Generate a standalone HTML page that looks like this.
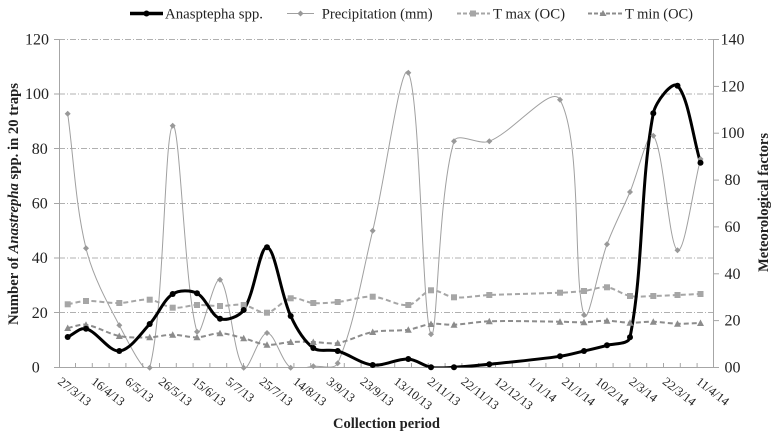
<!DOCTYPE html>
<html>
<head>
<meta charset="utf-8">
<style>
  html,body{margin:0;padding:0;background:#fff;}
  svg{display:block;}
  text{font-family:"Liberation Serif","Times New Roman",serif;fill:#222;}
</style>
</head>
<body>
<svg width="772" height="434" viewBox="0 0 772 434" xmlns="http://www.w3.org/2000/svg">
  <defs>
    <clipPath id="plot"><rect x="59" y="30" width="654" height="337.5"/></clipPath>
    <marker id="mc" markerUnits="userSpaceOnUse" markerWidth="10" markerHeight="10" refX="0" refY="0" overflow="visible">
      <circle cx="0" cy="0" r="3" fill="#000"/>
    </marker>
    <marker id="md" markerUnits="userSpaceOnUse" markerWidth="10" markerHeight="10" refX="0" refY="0" overflow="visible">
      <polygon points="0,-3 3,0 0,3 -3,0" fill="#999"/>
    </marker>
    <marker id="ms" markerUnits="userSpaceOnUse" markerWidth="10" markerHeight="10" refX="0" refY="0" overflow="visible">
      <rect x="-3" y="-3" width="6" height="6" fill="#a6a6a6"/>
    </marker>
    <marker id="mt" markerUnits="userSpaceOnUse" markerWidth="10" markerHeight="10" refX="0" refY="0" overflow="visible">
      <polygon points="0,-3.5 3.5,3 -3.5,3" fill="#8c8c8c"/>
    </marker>
  </defs>
  <rect x="0" y="0" width="772" height="434" fill="#fff"/>

  <!-- gridlines -->
  <g stroke="#b0b0b0" stroke-width="1" stroke-dasharray="6 2 1 2">
    <line x1="59" y1="39.5" x2="713" y2="39.5"/>
    <line x1="59" y1="94" x2="713" y2="94"/>
    <line x1="59" y1="148.5" x2="713" y2="148.5"/>
    <line x1="59" y1="203.5" x2="713" y2="203.5"/>
    <line x1="59" y1="258" x2="713" y2="258"/>
    <line x1="59" y1="312.5" x2="713" y2="312.5"/>
  </g>

  <!-- axes -->
  <g stroke="#a6a6a6" stroke-width="1" fill="none">
    <line x1="59.5" y1="39" x2="59.5" y2="367.5"/>
    <line x1="713.5" y1="39" x2="713.5" y2="367.5"/>
    <line x1="59" y1="367.5" x2="714" y2="367.5"/>
    <line x1="54" y1="39.5" x2="59" y2="39.5"/>
    <line x1="54" y1="94" x2="59" y2="94"/>
    <line x1="54" y1="148.5" x2="59" y2="148.5"/>
    <line x1="54" y1="203.5" x2="59" y2="203.5"/>
    <line x1="54" y1="258" x2="59" y2="258"/>
    <line x1="54" y1="312.5" x2="59" y2="312.5"/>
    <line x1="54" y1="367.5" x2="59" y2="367.5"/>
    <line x1="714" y1="39.5" x2="719" y2="39.5"/>
    <line x1="714" y1="86.4" x2="719" y2="86.4"/>
    <line x1="714" y1="133.2" x2="719" y2="133.2"/>
    <line x1="714" y1="180.1" x2="719" y2="180.1"/>
    <line x1="714" y1="226.9" x2="719" y2="226.9"/>
    <line x1="714" y1="273.8" x2="719" y2="273.8"/>
    <line x1="714" y1="320.6" x2="719" y2="320.6"/>
    <line x1="714" y1="367.5" x2="719" y2="367.5"/>
  </g>
  <path stroke="#a6a6a6" stroke-width="1" fill="none" d="
    M75.5,363V367 M92.3,363V367 M109.1,363V367 M125.9,363V367 M142.7,363V367 M159.5,363V367 M176.3,363V367 M193.1,363V367 M209.9,363V367 M226.7,363V367
    M243.5,363V367 M260.3,363V367 M277.1,363V367 M293.9,363V367 M310.7,363V367 M327.5,363V367 M344.3,363V367 M361.1,363V367 M377.9,363V367 M394.7,363V367
    M411.5,363V367 M428.3,363V367 M445.1,363V367 M461.9,363V367 M478.7,363V367 M495.5,363V367 M512.3,363V367 M529.1,363V367 M545.9,363V367 M562.7,363V367
    M579.5,363V367 M596.3,363V367 M613.1,363V367 M629.9,363V367 M646.7,363V367 M663.5,363V367 M680.3,363V367 M697.1,363V367"/>

  <g font-size="16">
    <text x="25" y="44.5">120</text>
    <text x="25" y="99.2">100</text>
    <text x="31.7" y="153.8">80</text>
    <text x="31.7" y="208.5">60</text>
    <text x="31.7" y="263.2">40</text>
    <text x="31.7" y="317.8">20</text>
    <text x="31.7" y="372.5">0</text>
  </g>
  <g font-size="16" text-anchor="middle">
    <text x="732.5" y="44.5">140</text>
    <text x="732.5" y="91.4">120</text>
    <text x="732.5" y="138.2">100</text>
    <text x="732.5" y="185.1">80</text>
    <text x="732.5" y="231.9">60</text>
    <text x="732.5" y="278.8">40</text>
    <text x="732.5" y="325.6">20</text>
    <text x="732.5" y="372.5">00</text>
  </g>

  <g font-size="12.5">
    <text transform="translate(57,383) rotate(38)">27/3/13</text>
    <text transform="translate(90.6,383) rotate(38)">16/4/13</text>
    <text transform="translate(124.2,383) rotate(38)">6/5/13</text>
    <text transform="translate(157.8,383) rotate(38)">26/5/13</text>
    <text transform="translate(191.4,383) rotate(38)">15/6/13</text>
    <text transform="translate(225,383) rotate(38)">5/7/13</text>
    <text transform="translate(258.6,383) rotate(38)">25/7/13</text>
    <text transform="translate(292.2,383) rotate(38)">14/8/13</text>
    <text transform="translate(325.8,383) rotate(38)">3/9/13</text>
    <text transform="translate(359.4,383) rotate(38)">23/9/13</text>
    <text transform="translate(393,383) rotate(38)">13/10/13</text>
    <text transform="translate(426.6,383) rotate(38)">2/11/13</text>
    <text transform="translate(460.2,383) rotate(38)">22/11/13</text>
    <text transform="translate(493.8,383) rotate(38)">12/12/13</text>
    <text transform="translate(527.4,383) rotate(38)">1/1/14</text>
    <text transform="translate(561,383) rotate(38)">21/1/14</text>
    <text transform="translate(594.6,383) rotate(38)">10/2/14</text>
    <text transform="translate(628.2,383) rotate(38)">2/3/14</text>
    <text transform="translate(661.8,383) rotate(38)">22/3/14</text>
    <text transform="translate(695.4,383) rotate(38)">11/4/14</text>
  </g>

  <text x="386.5" y="428" font-size="14.5" font-weight="bold" text-anchor="middle" textLength="107" lengthAdjust="spacingAndGlyphs">Collection period</text>
  <text transform="translate(18,204) rotate(-90)" font-size="14.7" font-weight="bold" text-anchor="middle" textLength="242" lengthAdjust="spacingAndGlyphs">Number of <tspan font-style="italic">Anastrepha</tspan> spp. in 20 traps</text>
  <text transform="translate(768,202.5) rotate(-90)" font-size="14.5" font-weight="bold" text-anchor="middle" textLength="139" lengthAdjust="spacingAndGlyphs">Meteorological factors</text>

  <g clip-path="url(#plot)" fill="none">
    <polyline class="sm" stroke="#a0a0a0" stroke-width="1" points="67.7,113.7 86,248.3 119.3,325.3 149.7,367.7 172.7,125.7 197,331.7 220,279.7 243.7,367.7 267,333 290.7,367.7 313.3,366.3 337.7,363.3 372.7,230.7 408.3,72.7 431,334.3 454,141.3 489.3,141.3 560,99.7 584,315 607,244.3 630,192 653.3,135.7 677.5,250.3 700.5,159"/>
    <polyline class="sm" stroke="#a6a6a6" stroke-width="2" stroke-dasharray="5 3" points="67.7,304.3 86,301 119.3,303 149.7,299.7 172.7,307.7 197,305 220,306 243.7,305 267,312.7 290.7,298.3 313.3,303 337.7,302 372.7,296.7 408.3,305 431,290.3 454,297.3 489.3,295 560,292.7 584,291 607,287.3 630,296 653.3,296 677.5,295 700.5,294"/>
    <polyline class="sm" stroke="#8c8c8c" stroke-width="2" stroke-dasharray="5 3" points="67.7,328 86,324.7 119.3,336 149.7,337.3 172.7,334.7 197,337.3 220,333.3 243.7,338.3 267,344.7 290.7,342 313.3,342 337.7,343 372.7,332 408.3,329.7 431,324 454,324.7 489.3,321.3 560,321.7 584,322.3 607,320.7 630,322.7 653.3,321.7 677.5,323.7 700.5,323"/>
    <polyline class="sm" stroke="#000" stroke-width="3" stroke-linejoin="round" points="67.7,337 86,328.7 119.3,351 149.7,324 172.7,294 197,293.3 220,318.7 243.7,310 267,247.3 290.7,316 313.3,348 337.7,351 372.7,365 408.3,359 431,367.3 454,367.3 489.3,364.3 560,356.3 584,351 607,345.3 630,337.3 653.3,113.3 677.5,85.7 700.5,162.7"/>
  </g>

  <g fill="none" stroke="none">
    <polyline marker-start="url(#md)" marker-mid="url(#md)" marker-end="url(#md)" points="67.7,113.7 86,248.3 119.3,325.3 149.7,367.7 172.7,125.7 197,331.7 220,279.7 243.7,367.7 267,333 290.7,367.7 313.3,366.3 337.7,363.3 372.7,230.7 408.3,72.7 431,334.3 454,141.3 489.3,141.3 560,99.7 584,315 607,244.3 630,192 653.3,135.7 677.5,250.3 700.5,159"/>
    <polyline marker-start="url(#ms)" marker-mid="url(#ms)" marker-end="url(#ms)" points="67.7,304.3 86,301 119.3,303 149.7,299.7 172.7,307.7 197,305 220,306 243.7,305 267,312.7 290.7,298.3 313.3,303 337.7,302 372.7,296.7 408.3,305 431,290.3 454,297.3 489.3,295 560,292.7 584,291 607,287.3 630,296 653.3,296 677.5,295 700.5,294"/>
    <polyline marker-start="url(#mt)" marker-mid="url(#mt)" marker-end="url(#mt)" points="67.7,328 86,324.7 119.3,336 149.7,337.3 172.7,334.7 197,337.3 220,333.3 243.7,338.3 267,344.7 290.7,342 313.3,342 337.7,343 372.7,332 408.3,329.7 431,324 454,324.7 489.3,321.3 560,321.7 584,322.3 607,320.7 630,322.7 653.3,321.7 677.5,323.7 700.5,323"/>
    <polyline marker-start="url(#mc)" marker-mid="url(#mc)" marker-end="url(#mc)" points="67.7,337 86,328.7 119.3,351 149.7,324 172.7,294 197,293.3 220,318.7 243.7,310 267,247.3 290.7,316 313.3,348 337.7,351 372.7,365 408.3,359 431,367.3 454,367.3 489.3,364.3 560,356.3 584,351 607,345.3 630,337.3 653.3,113.3 677.5,85.7 700.5,162.7"/>
  </g>

  <g>
    <line x1="130" y1="13.5" x2="163" y2="13.5" stroke="#000" stroke-width="3.5"/>
    <circle cx="146.5" cy="13.5" r="3" fill="#000"/>
    <text x="165" y="18.3" font-size="15" textLength="98" lengthAdjust="spacingAndGlyphs">Anasptepha spp.</text>

    <line x1="287" y1="13.5" x2="314" y2="13.5" stroke="#a0a0a0" stroke-width="1"/>
    <polygon points="300.5,10.5 303.5,13.5 300.5,16.5 297.5,13.5" fill="#999"/>
    <text x="321.7" y="18.3" font-size="15" textLength="111" lengthAdjust="spacingAndGlyphs">Precipitation (mm)</text>

    <line x1="457" y1="13.5" x2="490" y2="13.5" stroke="#a6a6a6" stroke-width="2" stroke-dasharray="4 2"/>
    <rect x="470" y="10.5" width="6" height="6" fill="#a6a6a6"/>
    <text x="493" y="18.3" font-size="15" textLength="72" lengthAdjust="spacingAndGlyphs">T max (OC)</text>

    <line x1="588" y1="13.5" x2="623" y2="13.5" stroke="#8c8c8c" stroke-width="2" stroke-dasharray="4 2"/>
    <polygon points="603,10 606.5,16 599.5,16" fill="#8c8c8c"/>
    <text x="625" y="18.3" font-size="15" textLength="68" lengthAdjust="spacingAndGlyphs">T min (OC)</text>
  </g>
</svg>
<script>
(function(){
  var NS='http://www.w3.org/2000/svg';
  function dist(a,b){var dx=b[0]-a[0],dy=b[1]-a[1];return Math.sqrt(dx*dx+dy*dy);}
  var pls=document.querySelectorAll('polyline.sm');
  for(var j=0;j<pls.length;j++){
    var pl=pls[j];
    var p=pl.getAttribute('points').trim().split(/\s+/).map(function(s){return s.split(',').map(Number);});
    var n=p.length;
    var d='M'+p[0][0]+','+p[0][1];
    for(var i=0;i<n-1;i++){
      var p0=p[i>0?i-1:i],p1=p[i],p2=p[i+1],p3=p[i+2<n?i+2:i+1];
      var d01=dist(p0,p1),d12=dist(p1,p2),d23=dist(p2,p3);
      var f1=(d01+d12)>0?d12/(d01+d12):0.5;
      var f2=(d12+d23)>0?d12/(d12+d23):0.5;
      var c1x=p1[0]+(p2[0]-p0[0])*f1/3, c1y=p1[1]+(p2[1]-p0[1])*f1/3;
      var c2x=p2[0]-(p3[0]-p1[0])*f2/3, c2y=p2[1]-(p3[1]-p1[1])*f2/3;
      d+=' C'+c1x.toFixed(2)+','+c1y.toFixed(2)+' '+c2x.toFixed(2)+','+c2y.toFixed(2)+' '+p2[0]+','+p2[1];
    }
    var path=document.createElementNS(NS,'path');
    for(var k=0;k<pl.attributes.length;k++){
      var a=pl.attributes[k];
      if(a.name!=='points'&&a.name!=='class') path.setAttribute(a.name,a.value);
    }
    path.setAttribute('d',d);
    pl.parentNode.replaceChild(path,pl);
  }
})();
</script>
</body>
</html>
